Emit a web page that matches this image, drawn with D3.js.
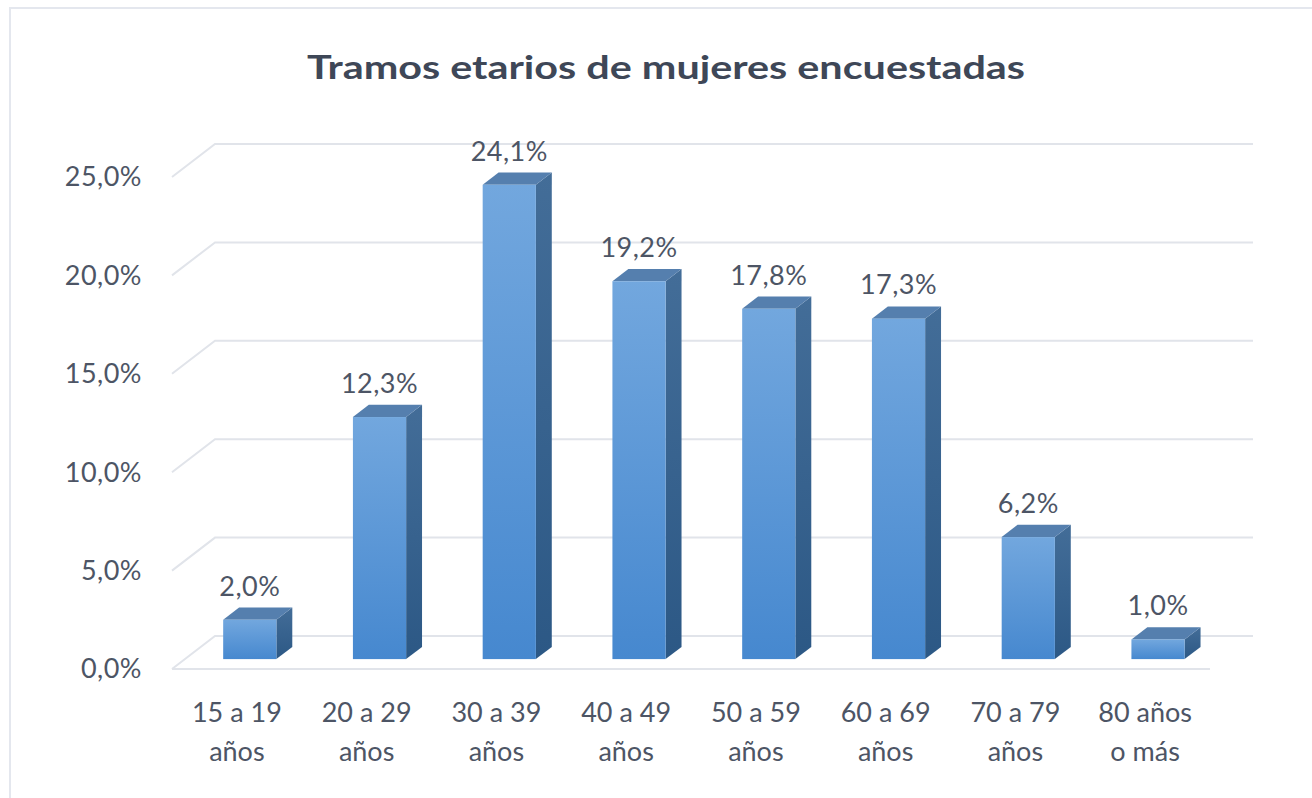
<!DOCTYPE html>
<html>
<head>
<meta charset="utf-8">
<script src="https://cdn.jsdelivr.net/npm/d3@7"></script>
<style>
    body { margin: 0; background: #ffffff; }
    svg { display: block; }
</style>
</head>
<body>
<div id="chart"></div>
<script>
const categories = [
    ['15 a 19', 'años'],
    ['20 a 29', 'años'],
    ['30 a 39', 'años'],
    ['40 a 49', 'años'],
    ['50 a 59', 'años'],
    ['60 a 69', 'años'],
    ['70 a 79', 'años'],
    ['80 años', 'o más']
];
const values = [2.0, 12.3, 24.1, 19.2, 17.8, 17.3, 6.2, 1.0];
const yTicks = [0, 5, 10, 15, 20, 25];
const chartTitle = 'Tramos etarios de mujeres encuestadas';

const fmt = v => v.toFixed(1).replace('.', ',') + '%';

const W = 1312, H = 798;
const font = 'Lato, "Open Sans", sans-serif';
const textColor = '#4d5565';

// front plane of the floor, plus the depth offset of the 3d box
const front = { left: 172, right: 1210, bottom: 669 };
const depth = { dx: 43, dy: -33 };
const barNear = 0.3, barFar = 0.67;

const svg = d3.select('#chart')
    .append('svg')
    .attr('width', W)
    .attr('height', H);

// light outer border
svg.append('path')
    .attr('d', `M10,${H} L10,8 L${W},8`)
    .attr('fill', 'none')
    .attr('stroke', '#e4e7ee')
    .attr('stroke-width', 2);

const x = d3.scaleBand()
    .domain(d3.range(categories.length))
    .range([front.left, front.right])
    .paddingInner(0)
    .paddingOuter(0);

const y = d3.scaleLinear()
    .domain([0, 25])
    .range([front.bottom, 177]);

// gridlines: back wall line + left wall diagonal (0% also gets the front floor edge)
const grid = svg.append('g');
yTicks.forEach(t => {
    const yf = y(t);
    const yb = yf + depth.dy;
    const xl = front.left, xr = front.right;
    let d = `M${xl},${yf} L${xl + depth.dx},${yb} L${xr + depth.dx},${yb}`;
    if (t === 0) d += ` M${xl},${yf} L${xr},${yf}`;
    grid.append('path')
        .attr('d', d)
        .attr('fill', 'none')
        .attr('stroke', '#e1e4ea')
        .attr('stroke-width', 2);
});

// y tick labels
svg.append('g')
    .selectAll('text')
    .data(yTicks)
    .enter()
    .append('text')
    .attr('x', 142)
    .attr('y', d => y(d))
    .attr('dy', '0.35em')
    .attr('text-anchor', 'end')
    .style('font-family', font)
    .style('font-size', '27px')
    .style('letter-spacing', '0.5px')
    .style('fill', textColor)
    .text(d => fmt(d));

// gradients
const defs = svg.append('defs');
const frontGrad = defs.append('linearGradient')
    .attr('id', 'frontGrad')
    .attr('x1', 0).attr('y1', 0).attr('x2', 0).attr('y2', 1);
frontGrad.append('stop').attr('offset', '0%').attr('stop-color', '#72a7de');
frontGrad.append('stop').attr('offset', '100%').attr('stop-color', '#4688cf');
const sideGrad = defs.append('linearGradient')
    .attr('id', 'sideGrad')
    .attr('x1', 0).attr('y1', 0).attr('x2', 0).attr('y2', 1);
sideGrad.append('stop').attr('offset', '0%').attr('stop-color', '#436d98');
sideGrad.append('stop').attr('offset', '100%').attr('stop-color', '#2c5885');

const barW = x.bandwidth() * 0.41;
const nx = depth.dx * barNear, ny = depth.dy * barNear;
const sx = depth.dx * (barFar - barNear), sy = depth.dy * (barFar - barNear);

const bars = svg.selectAll('.bar')
    .data(values)
    .enter()
    .append('g')
    .attr('class', 'bar');

const barX0 = i => x(i) + x.bandwidth() / 2 - barW / 2 + nx;
const barTop = v => y(v) + ny;
const barBottom = y(0) + ny;

// side face
bars.append('path')
    .attr('d', (v, i) => {
        const x1 = barX0(i) + barW;
        return `M${x1},${barTop(v)} L${x1 + sx},${barTop(v) + sy} L${x1 + sx},${barBottom + sy} L${x1},${barBottom} Z`;
    })
    .attr('fill', 'url(#sideGrad)');

// top face
bars.append('path')
    .attr('d', (v, i) => {
        const x0 = barX0(i), t = barTop(v);
        return `M${x0},${t} L${x0 + sx},${t + sy} L${x0 + barW + sx},${t + sy} L${x0 + barW},${t} Z`;
    })
    .attr('fill', '#557fae');

// front face
bars.append('rect')
    .attr('x', (v, i) => barX0(i))
    .attr('y', v => barTop(v))
    .attr('width', barW)
    .attr('height', v => barBottom - barTop(v))
    .attr('fill', 'url(#frontGrad)');

// data labels
bars.append('text')
    .attr('x', (v, i) => barX0(i) + barW / 2)
    .attr('y', v => barTop(v) + sy - 12)
    .attr('text-anchor', 'middle')
    .style('font-family', font)
    .style('font-size', '27px')
    .style('letter-spacing', '0.5px')
    .style('fill', textColor)
    .text(v => fmt(v));

// category labels
const cat = svg.append('g')
    .selectAll('text')
    .data(categories)
    .enter()
    .append('text')
    .attr('text-anchor', 'middle')
    .style('font-family', font)
    .style('font-size', '27px')
    .style('fill', textColor);

cat.selectAll('tspan')
    .data((d, i) => d.map(line => ({ line, i })))
    .enter()
    .append('tspan')
    .attr('x', d => x(d.i) + x.bandwidth() / 2)
    .attr('y', (d, j) => 722 + j * 39)
    .text(d => d.line);

// title
svg.append('text')
    .attr('x', 666)
    .attr('y', 79)
    .attr('text-anchor', 'middle')
    .attr('textLength', 718)
    .attr('lengthAdjust', 'spacingAndGlyphs')
    .style('font-family', font)
    .style('font-size', '33px')
    .style('font-weight', 'bold')
    .style('fill', '#3e4757')
    .text(chartTitle);
</script>
</body>
</html>
